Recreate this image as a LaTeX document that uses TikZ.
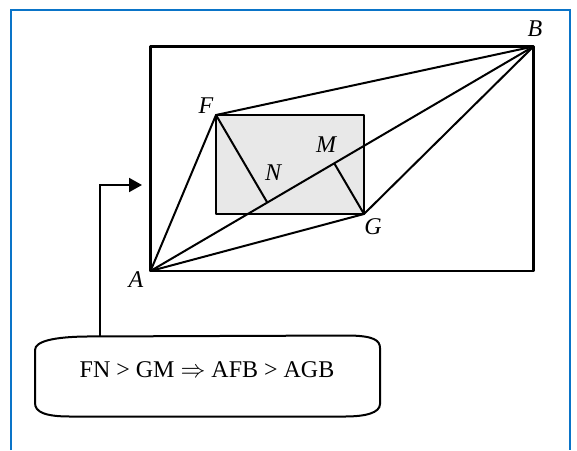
\documentclass[tikz,border=0pt]{standalone}
\usepackage{fontspec}
\setmainfont{Liberation Serif}
\usetikzlibrary{calc,arrows.meta}
\definecolor{frameblue}{HTML}{0A74C8}
\definecolor{innergray}{HTML}{E8E8E8}
\begin{document}
\begin{tikzpicture}[x=1pt,y=-1pt,
  geo/.style={line width=2pt,line join=round},
  lbl/.style={font=\fontsize{24}{28}\selectfont\itshape,inner sep=0pt},
  txt/.style={font=\fontsize{24}{28}\selectfont,inner sep=0pt}]
\useasboundingbox (0,0) rectangle (577,450);
% blue frame
\draw[frameblue,line width=2.6pt] (11,450) -- (11,10) -- (570,10) -- (570,450);
% points
\coordinate (A) at (150.5,271);
\coordinate (B) at (533.5,46.5);
\coordinate (F) at (216,115);
\coordinate (G) at (364,214);
\coordinate (N) at ($(A)!(F)!(B)$);
\coordinate (M) at ($(A)!(G)!(B)$);
% outer rectangle
\draw[geo,line width=2.2pt] (A) rectangle (B);
% inner gray rectangle
\draw[geo,fill=innergray] (F) rectangle (G);
% lines
\draw[geo] (A) -- (F) -- (B) -- (G) -- cycle;
\draw[geo] (A) -- (B);
\draw[geo] (F) -- (N);
\draw[geo] (G) -- (M);
% labels
\node[lbl] (lA) at (136,280) {A};
\node[lbl] (lB) at (535,29) {B};
\node[lbl] (lF) at (206,106) {F};
\node[lbl] (lG) at (373,227) {G};
\node[lbl] (lN) at (273,173) {N};
\node[lbl] (lM) at (326,145) {M};
% bottom box
\draw[line width=2pt] (35,403) -- (35,350)
  .. controls (35,341) and (55,337) .. (85,336.5)
  -- (350,335.5) .. controls (373,336) and (380,340) .. (380,348)
  -- (380,404) .. controls (380,413) and (365,416.5) .. (345,416.5)
  -- (70,416.5) .. controls (45,416.5) and (35,412) .. (35,403) -- cycle;
\coordinate (boxtop) at (99.6,336.3);
\coordinate (tip) at (142,185);
\node[txt,anchor=base] (eq) at (207,377) {FN > GM $\Rightarrow$ AFB > AGB};
% arrow
\draw[line width=2pt,-{Triangle[length=13pt,width=14pt]}] (boxtop) |- (tip);
\end{tikzpicture}
\end{document}
